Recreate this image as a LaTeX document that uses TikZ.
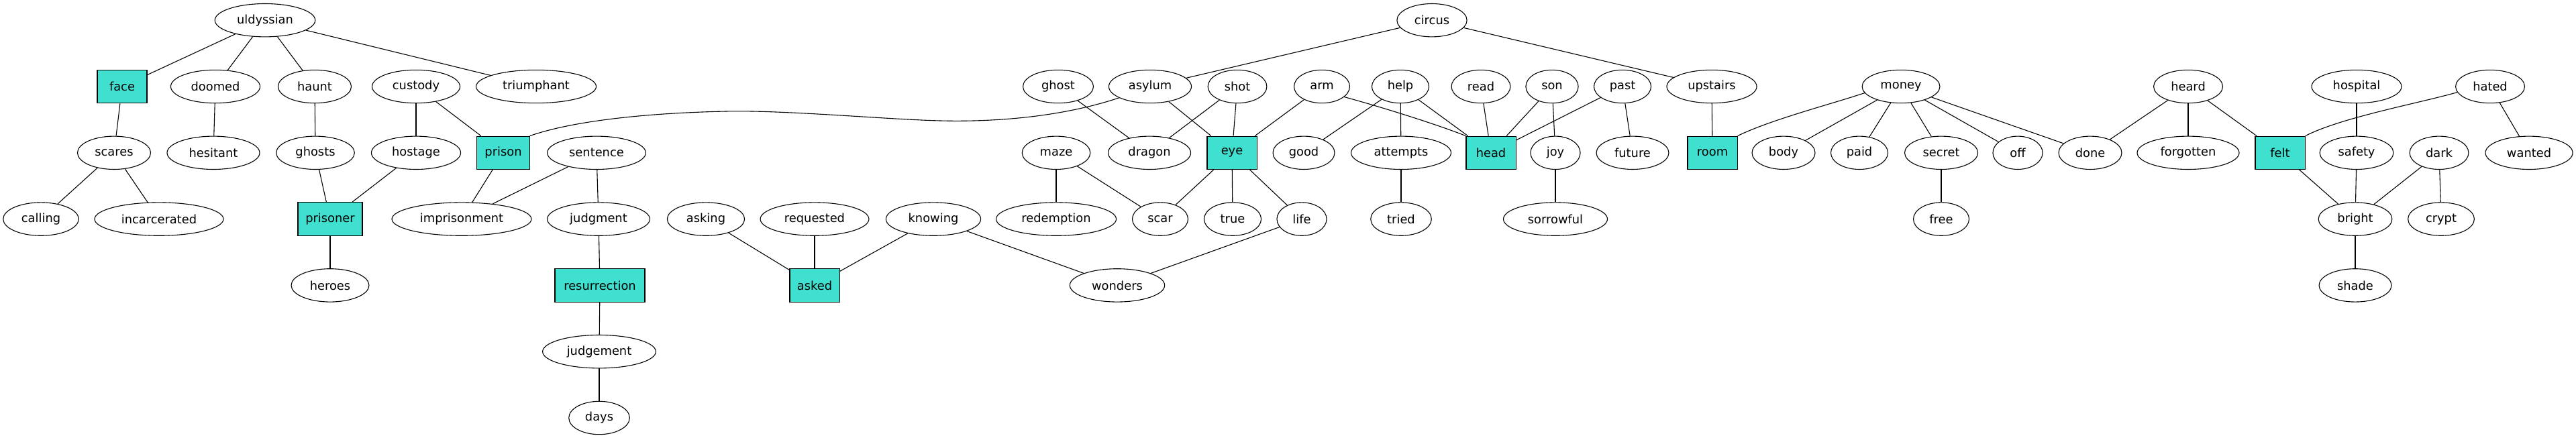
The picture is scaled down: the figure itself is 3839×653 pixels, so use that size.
\documentclass[tikz,border=0pt]{standalone}
\usepackage{fontspec}
\setmainfont{DejaVu Sans}
\usetikzlibrary{shapes.geometric}
\definecolor{turq}{HTML}{40E0D0}
\tikzset{
  word/.style={ellipse, draw, line width=0.8pt, minimum height=36pt, inner sep=0pt,
    font=\fontsize{13}{15}\selectfont},
  keyword/.style={rectangle, draw, line width=0.8pt, fill=turq, minimum height=36pt,
    minimum width=54pt, inner sep=2pt, font=\fontsize{13}{15}\selectfont},
  link/.style={line width=0.8pt}
}
\begin{document}
\begin{tikzpicture}[x=0.7289pt, y=-0.7289pt]
\useasboundingbox (0,0) rectangle (3839,653);
% rank 0
\node[word, minimum width=109pt] (uldyssian) at (395,30.2) {uldyssian};
\node[word, minimum width=76pt] (circus) at (2134,30.2) {circus};
% rank 1
\node[keyword] (face) at (182,129) {face};
\node[word, minimum width=97pt] (doomed) at (321,129) {doomed};
\node[word, minimum width=79.5pt] (haunt) at (469,129) {haunt};
\node[word, minimum width=95.5pt] (custody) at (620,129) {custody};
\node[word, minimum width=130.5pt] (triumphant) at (799,129) {triumphant};
\node[word, minimum width=76.5pt] (ghost) at (1577,129) {ghost};
\node[word, minimum width=89.7pt] (asylum) at (1714,129) {asylum};
\node[word, minimum width=64pt] (shot) at (1844,129) {shot};
\node[word, minimum width=60.5pt] (arm) at (1970,129) {arm};
\node[word, minimum width=62pt] (help) at (2087,129) {help};
\node[word, minimum width=64pt] (read) at (2207,129) {read};
\node[word, minimum width=57pt] (son) at (2313,129) {son};
\node[word, minimum width=62pt] (past) at (2418,129) {past};
\node[word, minimum width=97.7pt] (upstairs) at (2551,129) {upstairs};
\node[word, minimum width=84.5pt] (money) at (2833,129) {money};
\node[word, minimum width=75pt] (heard) at (3261,129) {heard};
\node[word, minimum width=97.7pt] (hospital) at (3512,129) {hospital};
\node[word, minimum width=75pt] (hated) at (3711,129) {hated};
% rank 2
\node[word, minimum width=79.5pt] (scares) at (170,227.8) {scares};
\node[word, minimum width=100.6pt] (hesitant) at (318,227.8) {hesitant};
\node[word, minimum width=85pt] (ghosts) at (470,227.8) {ghosts};
\node[word, minimum width=97pt] (hostage) at (620,227.8) {hostage};
\node[keyword, minimum width=57pt] (prison) at (750,227.8) {prison};
\node[word, minimum width=107pt] (sentence) at (889,227.8) {sentence};
\node[word, minimum width=74pt] (maze) at (1574,227.8) {maze};
\node[word, minimum width=89.7pt] (dragon) at (1713,227.8) {dragon};
\node[keyword] (eye) at (1836,227.8) {eye};
\node[word, minimum width=67pt] (good) at (1943,227.8) {good};
\node[word, minimum width=108.6pt] (attempts) at (2088,227.8) {attempts};
\node[keyword] (head) at (2222,227.8) {head};
\node[word, minimum width=54pt] (joy) at (2318,227.8) {joy};
\node[word, minimum width=78.7pt] (future) at (2433,227.8) {future};
\node[keyword] (room) at (2552,227.8) {room};
\node[word, minimum width=68.5pt] (body) at (2658,227.8) {body};
\node[word, minimum width=62pt] (paid) at (2771,227.8) {paid};
\node[word, minimum width=79.5pt] (secret) at (2893,227.8) {secret};
\node[word, minimum width=54pt] (off) at (3007,227.8) {off};
\node[word, minimum width=68.5pt] (done) at (3115,227.8) {done};
\node[word, minimum width=110.8pt] (forgotten) at (3261,227.8) {forgotten};
\node[keyword] (felt) at (3398,227.8) {felt};
\node[word, minimum width=80pt] (safety) at (3512,227.8) {safety};
\node[word, minimum width=64pt] (dark) at (3635,227.8) {dark};
\node[word, minimum width=94.8pt] (wanted) at (3769,227.8) {wanted};
% rank 3
\node[word, minimum width=82pt] (calling) at (61,326.6) {calling};
\node[word, minimum width=140pt] (incarcerated) at (237,326.6) {incarcerated};
\node[keyword, minimum width=70pt] (prisoner) at (492,326.6) {prisoner};
\node[word, minimum width=151.6pt] (imprisonment) at (688,326.6) {imprisonment};
\node[word, minimum width=111.5pt] (judgment) at (892,326.6) {judgment};
\node[word, minimum width=84pt] (asking) at (1052,326.6) {asking};
\node[word, minimum width=118pt] (requested) at (1214,326.6) {requested};
\node[word, minimum width=103pt] (knowing) at (1391,326.6) {knowing};
\node[word, minimum width=130.5pt] (redemption) at (1574,326.6) {redemption};
\node[word, minimum width=60.5pt] (scar) at (1729,326.6) {scar};
\node[word, minimum width=62pt] (true) at (1837,326.6) {true};
\node[word, minimum width=54pt] (life) at (1940,326.6) {life};
\node[word, minimum width=66pt] (tried) at (2088,326.6) {tried};
\node[word, minimum width=113pt] (sorrowful) at (2318,326.6) {sorrowful};
\node[word, minimum width=60.5pt] (free) at (2893,326.6) {free};
\node[word, minimum width=80pt] (bright) at (3510,326.6) {bright};
\node[word, minimum width=72pt] (crypt) at (3638,326.6) {crypt};
% rank 4
\node[word, minimum width=84.5pt] (heroes) at (492,425.4) {heroes};
\node[keyword, minimum width=97.7pt] (resurrection) at (894,425.4) {resurrection};
\node[keyword] (asked) at (1214,425.4) {asked};
\node[word, minimum width=103pt] (wonders) at (1665,425.4) {wonders};
\node[word, minimum width=78.7pt] (shade) at (3510,425.4) {shade};
% rank 5 and 6
\node[word, minimum width=123pt] (judgement) at (893,524.2) {judgement};
\node[word, minimum width=66pt] (days) at (893,623) {days};
% edges
\draw[link] (uldyssian) -- (face);
\draw[link] (uldyssian) -- (doomed);
\draw[link] (uldyssian) -- (haunt);
\draw[link] (uldyssian) -- (triumphant);
\draw[link] (face) -- (scares);
\draw[link] (scares) -- (calling);
\draw[link] (scares) -- (incarcerated);
\draw[link] (doomed) -- (hesitant);
\draw[link] (haunt) -- (ghosts);
\draw[link] (ghosts) -- (prisoner);
\draw[link] (hostage) -- (prisoner);
\draw[link] (custody) -- (hostage);
\draw[link] (custody) -- (prison);
\draw[link] (prisoner) -- (heroes);
\draw[link] (prison) -- (imprisonment);
\draw[link] (sentence) -- (imprisonment);
\draw[link] (sentence) -- (judgment);
\draw[link] (judgment) -- (resurrection);
\draw[link] (resurrection) -- (judgement);
\draw[link] (judgement) -- (days);
\draw[link] (asylum.200) .. controls (1580,175) and (1480,182) .. (1401,180)
  .. controls (1320,178) and (1170,164) .. (1082,166)
  .. controls (980,168) and (860,178) .. (prison.north east);
\draw[link] (circus) -- (asylum);
\draw[link] (circus) -- (upstairs);
\draw[link] (ghost) -- (dragon);
\draw[link] (shot) -- (dragon);
\draw[link] (asylum) -- (eye);
\draw[link] (shot) -- (eye);
\draw[link] (arm) -- (eye);
\draw[link] (arm.335) .. controls (2060,160) and (2140,185) .. (head.north west);
\draw[link] (maze) -- (redemption);
\draw[link] (maze) -- (scar);
\draw[link] (eye) -- (scar);
\draw[link] (eye) -- (true);
\draw[link] (eye) -- (life);
\draw[link] (life) -- (wonders);
\draw[link] (knowing) -- (wonders);
\draw[link] (asking) -- (asked);
\draw[link] (requested) -- (asked);
\draw[link] (knowing) -- (asked);
\draw[link] (help) -- (good);
\draw[link] (help) -- (attempts);
\draw[link] (help) -- (head);
\draw[link] (attempts) -- (tried);
\draw[link] (read) -- (head);
\draw[link] (son) -- (head);
\draw[link] (son) -- (joy);
\draw[link] (past) -- (head);
\draw[link] (past) -- (future);
\draw[link] (joy) -- (sorrowful);
\draw[link] (upstairs) -- (room);
\draw[link] (money.190) .. controls (2730,155) and (2640,178) .. (room.north east);
\draw[link] (money) -- (body);
\draw[link] (money) -- (paid);
\draw[link] (money) -- (secret);
\draw[link] (money) -- (off);
\draw[link] (money) -- (done);
\draw[link] (secret) -- (free);
\draw[link] (heard) -- (done);
\draw[link] (heard) -- (forgotten);
\draw[link] (heard) -- (felt);
\draw[link] (hated.190) .. controls (3600,155) and (3490,175) .. (felt.north east);
\draw[link] (hated) -- (wanted);
\draw[link] (hospital) -- (safety);
\draw[link] (felt) -- (bright);
\draw[link] (safety) -- (bright);
\draw[link] (dark) -- (bright);
\draw[link] (dark) -- (crypt);
\draw[link] (bright) -- (shade);
\end{tikzpicture}
\end{document}
